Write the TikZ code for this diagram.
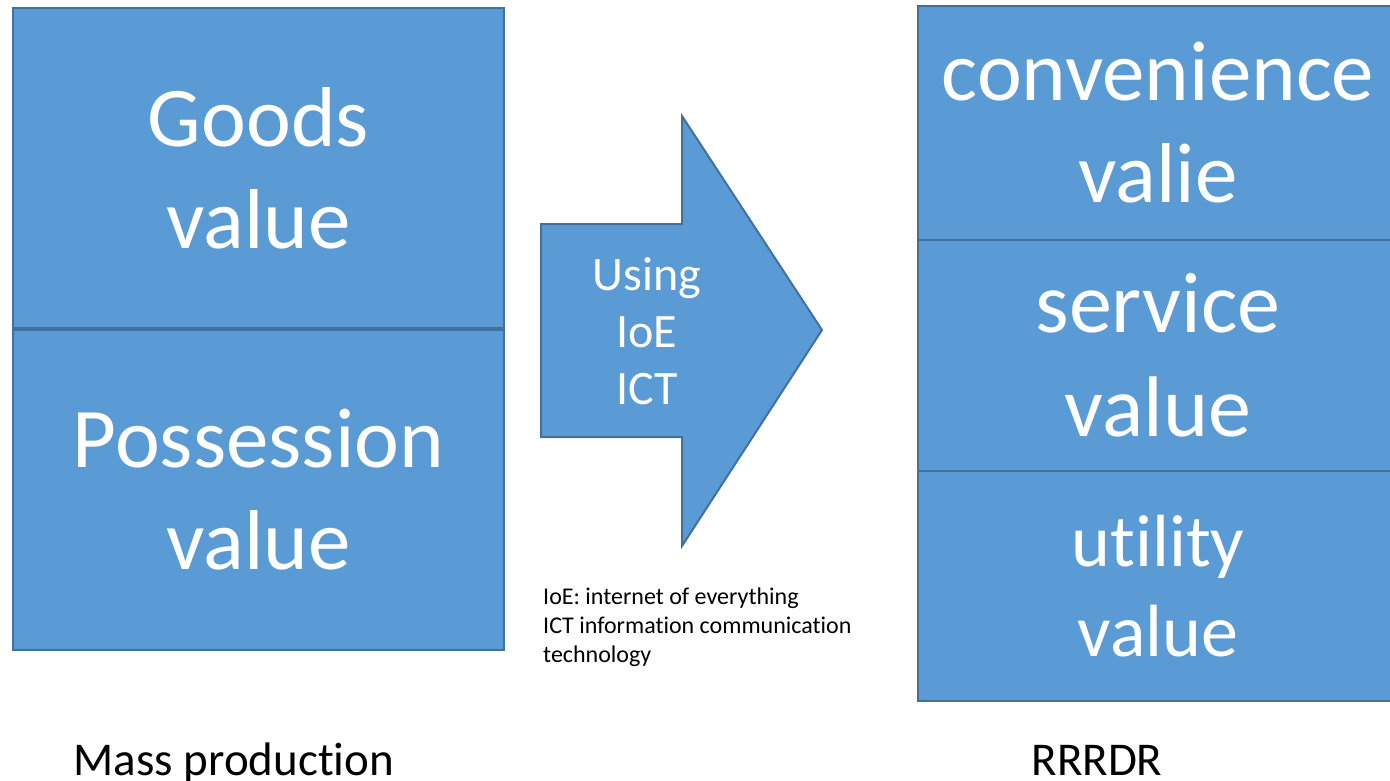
\documentclass[tikz,border=0pt]{standalone}
\usepackage{fontspec}
\setmainfont[RawFeature=-liga]{Carlito}
\definecolor{boxfill}{HTML}{5B9BD5}
\definecolor{boxline}{HTML}{41719C}
\begin{document}
\begin{tikzpicture}[x=1pt,y=-1pt,
  valbox/.style={draw=boxline, line width=2pt, fill=boxfill, text=white,
    align=center, inner sep=0pt, font=\fontsize{85}{102}\selectfont},
  smallval/.style={valbox, font=\fontsize{74}{90}\selectfont},
  arrowshape/.style={draw=boxline, line width=2pt, fill=boxfill},
  arrowtxt/.style={text=white, align=center, inner sep=0pt,
    font=\fontsize{48}{57}\selectfont},
  note/.style={text=black, align=left, inner sep=0pt,
    font=\fontsize{24}{28.6}\selectfont},
  caption/.style={text=black, inner sep=0pt, font=\fontsize{47}{56}\selectfont}
]
\useasboundingbox (0,0) rectangle (1390,780);
\fill[white] (0,0) rectangle (1390,780);

% left column
\node[valbox, minimum width=491pt, minimum height=320pt] (goods) at (258.5,168) {Goods\\value};
\node[valbox, minimum width=491pt, minimum height=320pt] (poss) at (258.5,490) {Possession\\value};

% right column
\node[valbox, minimum width=480pt, minimum height=234pt] (conv) at (1158,123) {convenience\\valie};
\node[valbox, minimum width=480pt, minimum height=231pt, font=\fontsize{86}{104}\selectfont] (serv) at (1158,355.5) {service\\value};
\node[smallval, minimum width=480pt, minimum height=230pt] (util) at (1158,586) {utility\\value};

% arrow
\draw[arrowshape, line join=miter] (541,224) -- (682,224) -- (682,116) -- (822,330)
  -- (682,546) -- (682,437) -- (541,437) -- cycle;
\node[arrowtxt] (using) at (647,331) {Using\\IoE\\ICT};

% footnote
\node[note, anchor=north west] (fn) at (543,588)
  {IoE: internet of everything\\ICT information communication\\technology};

% captions
\node[caption, anchor=base] (mass) at (234,775) {Mass production};
\node[caption, anchor=base] (rrrdr) at (1097,775) {RRRDR};
\end{tikzpicture}
\end{document}
